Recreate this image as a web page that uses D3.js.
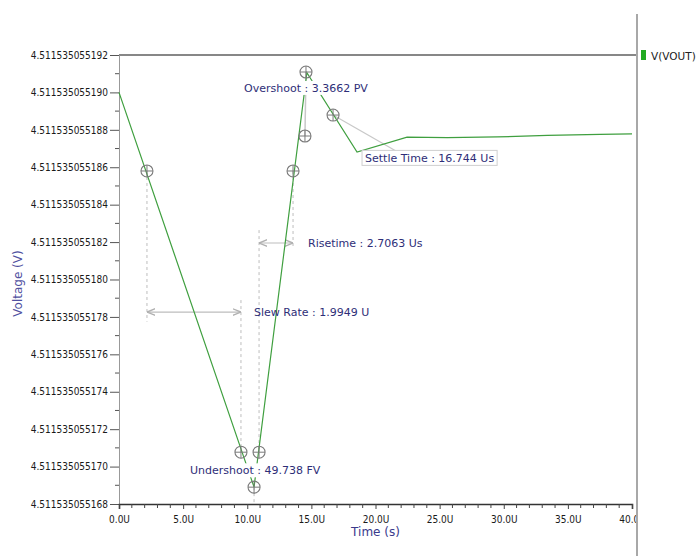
<!DOCTYPE html>
<html>
<head>
<meta charset="utf-8">
<script src="https://cdn.jsdelivr.net/npm/d3@7"></script>
<style>
  body { margin: 0; background: #fff; }
  text { font-family: "DejaVu Sans", sans-serif; }
  .tick-lab { font-family: "DejaVu Sans Condensed", "DejaVu Sans", sans-serif; font-stretch: condensed; font-size: 10px; fill: #1a1a1a; }
  .ann { font-size: 11px; fill: #2e2e78; }
</style>
</head>
<body>
<div id="chart"></div>
<script>
'use strict';

// transient response of V(VOUT), time in us
var timeUs = [0, 10.53, 14.65, 18.56, 22.46, 25.6, 29.5, 33.4, 37.5, 40.0];
var voutV  = [4.5115350551900, 4.5115350551689, 4.51153505519105, 4.51153505518681,
              4.51153505518761, 4.51153505518758, 4.51153505518762, 4.5115350551877,
              4.51153505518776, 4.51153505518778];

// measurement markers (crosshair circles)
var markerT = [2.18, 9.51, 10.92, 10.53, 13.57, 14.50, 14.58, 16.69];
var markerV = [4.51153505518580, 4.51153505517077, 4.51153505517077, 4.5115350551689,
               4.51153505518580, 4.51153505518767, 4.51153505519109, 4.51153505518879];

// measurement labels
var annText = ["Overshoot : 3.3662 PV", "Slew Rate : 1.9949 U", "Risetime : 2.7063 Us",
               "Settle Time : 16.744 Us", "Undershoot : 49.738 FV"];
var annT = [9.75, 10.53, 14.74, 18.95, 5.54];
var annV = [4.51153505519024, 4.51153505517826, 4.51153505518195, 4.51153505518650, 4.51153505516980];

var yTickLabels = ["4.511535055168", "4.511535055170", "4.511535055172", "4.511535055174",
                   "4.511535055176", "4.511535055178", "4.511535055180", "4.511535055182",
                   "4.511535055184", "4.511535055186", "4.511535055188", "4.511535055190",
                   "4.511535055192"];
var xTicks = [0, 5, 10, 15, 20, 25, 30, 35, 40];

var W = 696, H = 556;
var plot = {left: 119, right: 632, top: 55, bottom: 504};

var x = d3.scaleLinear().domain([0, 40]).range([plot.left, plot.right]);
var y = d3.scaleLinear().domain([+yTickLabels[0], +yTickLabels[12]]).range([plot.bottom, plot.top]);

var svg = d3.select("#chart").append("svg")
    .attr("width", W).attr("height", H);

var defs = svg.append("defs");
defs.append("marker").attr("id", "arr")
    .attr("viewBox", "0 0 10 10").attr("refX", 10).attr("refY", 5)
    .attr("markerWidth", 7).attr("markerHeight", 7).attr("orient", "auto-start-reverse")
    .append("path").attr("d", "M0,1 L10,5 L0,9").attr("fill", "none")
    .attr("stroke", "#b0b0b0").attr("stroke-width", 1.6);
// the chart panel ends at the legend separator, labels past it are cut
defs.append("clipPath").attr("id", "panel")
    .append("rect").attr("x", 0).attr("y", 0).attr("width", 636).attr("height", H);

// top frame line and legend separator
svg.append("line").attr("x1", plot.left).attr("x2", plot.right + 5)
    .attr("y1", plot.top).attr("y2", plot.top).attr("stroke", "#111").attr("stroke-width", 1.2);
svg.append("line").attr("x1", 637).attr("x2", 637).attr("y1", 14).attr("y2", H)
    .attr("stroke", "#a8a8a8").attr("stroke-width", 2);

// Y axis
var yAxis = svg.append("g").attr("transform", "translate(" + plot.left + ",0)")
    .call(d3.axisLeft(y).tickValues(yTickLabels.map(Number)).tickSize(9)
        .tickFormat(function(d, i) { return yTickLabels[i]; }));
yAxis.select(".domain").attr("stroke", "#999");
yAxis.selectAll(".tick line").attr("stroke", "#555");
yAxis.selectAll("text").attr("class", "tick-lab").attr("x", -11);
var yMinor = [];
for (var i = 0; i < yTickLabels.length - 1; i++) yMinor.push((+yTickLabels[i] + +yTickLabels[i + 1]) / 2);
svg.append("g").selectAll("line").data(yMinor).join("line")
    .attr("x1", plot.left - 4).attr("x2", plot.left)
    .attr("y1", function(d) { return y(d); }).attr("y2", function(d) { return y(d); })
    .attr("stroke", "#555");

// X axis
var xAxis = svg.append("g").attr("clip-path", "url(#panel)")
    .append("g").attr("transform", "translate(0," + plot.bottom + ")")
    .call(d3.axisBottom(x).tickValues(xTicks).tickSize(5)
        .tickFormat(function(d) { return d.toFixed(1) + "U"; }));
xAxis.select(".domain").attr("stroke", "#333").attr("stroke-width", 1.6);
xAxis.selectAll(".tick line").attr("stroke", "#444");
xAxis.selectAll("text").attr("class", "tick-lab").attr("y", 12);
svg.append("g").selectAll("line").data(d3.range(0, 41, 1).filter(function(d) { return d % 5; }))
    .join("line")
    .attr("x1", function(d) { return x(d); }).attr("x2", function(d) { return x(d); })
    .attr("y1", plot.bottom).attr("y2", plot.bottom + 4).attr("stroke", "#444");

// axis titles
svg.append("text").attr("x", x(20)).attr("y", 536).attr("text-anchor", "middle")
    .attr("font-size", 12).attr("fill", "#3a3a8c").text("Time (s)");
svg.append("text").attr("transform", "translate(22," + ((plot.top + plot.bottom) / 2 + 4) + ") rotate(-90)")
    .attr("text-anchor", "middle").attr("font-size", 12).attr("fill", "#5050a0").text("Voltage (V)");

// legend
svg.append("rect").attr("x", 641).attr("y", 50).attr("width", 5).attr("height", 10).attr("fill", "#22aa22");
svg.append("text").attr("x", 651).attr("y", 60).attr("font-size", 10.5).attr("fill", "#222")
    .text("V(VOUT)");

// dashed guide lines for slew rate and rise time
var gray = "#bdbdbd";
function vline(t, v1, v2) {
    svg.append("line").attr("x1", x(t)).attr("x2", x(t)).attr("y1", y(v1)).attr("y2", y(v2))
        .attr("stroke", gray).attr("stroke-dasharray", "3,3");
}
vline(markerT[0], markerV[0], 4.51153505517775);
vline(markerT[1], 4.51153505517890, markerV[1]);
vline(markerT[2], 4.51153505518264, markerV[2]);
vline(markerT[4], markerV[4], 4.51153505518173);
vline(markerT[3], markerV[3], +yTickLabels[0]);

function arrow(t1, t2, v) {
    svg.append("line").attr("x1", x(t1)).attr("x2", x(t2)).attr("y1", y(v)).attr("y2", y(v))
        .attr("stroke", gray).attr("stroke-width", 1.2)
        .attr("marker-start", "url(#arr)").attr("marker-end", "url(#arr)");
}
arrow(markerT[0], markerT[1], annV[1]);
arrow(markerT[2], markerT[4], annV[2]);

// overshoot and settle leader lines
svg.append("line").attr("x1", x(markerT[6])).attr("y1", y(markerV[6]))
    .attr("x2", x(markerT[5])).attr("y2", y(markerV[5])).attr("stroke", "#c8c8c8").attr("stroke-width", 1.5);
svg.append("line").attr("x1", x(markerT[7])).attr("y1", y(markerV[7]))
    .attr("x2", x(22.14)).attr("y2", y(4.51153505518665)).attr("stroke", "#c8c8c8").attr("stroke-width", 1.2);

// signal line
var valueline = d3.line()
    .x(function(d, i) { return x(timeUs[i]); })
    .y(function(d) { return y(d); });
svg.append("path").datum(voutV)
    .attr("fill", "none").attr("stroke", "#3f9f3f").attr("stroke-width", 1.2)
    .attr("d", valueline);

// markers
var mk = svg.append("g").selectAll("g").data(markerT).join("g")
    .attr("transform", function(d, i) { return "translate(" + x(d) + "," + y(markerV[i]) + ")"; });
mk.append("circle").attr("r", 6).attr("fill", "none").attr("stroke", "#7a7a7a").attr("stroke-width", 1.1);
mk.append("path").attr("d", "M-6,0H6M0,-6V6").attr("stroke", "#7a7a7a").attr("stroke-width", 1);

// measurement labels
var ann = svg.append("g").selectAll("g").data(annText).join("g")
    .attr("transform", function(d, i) { return "translate(" + x(annT[i]) + "," + y(annV[i]) + ")"; });
ann.each(function(d, i) {
    var g = d3.select(this);
    var t = g.append("text").attr("class", "ann").attr("dy", "0.35em").text(d);
    var w = t.node().getComputedTextLength();
    if (i === 0 || i === 4) {
        g.insert("rect", "text").attr("x", -1).attr("y", -7).attr("width", w + 2).attr("height", 14).attr("fill", "#fff");
    }
    if (i === 3) {
        t.attr("x", 3);
        g.insert("rect", "text").attr("x", 0).attr("y", -7.5).attr("width", w + 6).attr("height", 15)
            .attr("fill", "#fff").attr("stroke", "#cfcfcf");
    }
});
</script>
</body>
</html>
